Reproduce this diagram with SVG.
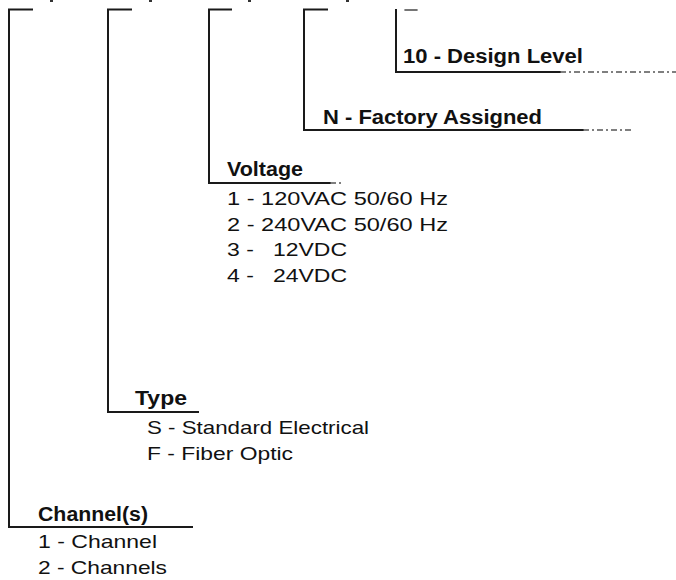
<svg xmlns="http://www.w3.org/2000/svg" width="676" height="580" viewBox="0 0 676 580">
<style>
.ln{stroke:#1a1a1a;stroke-width:2;fill:none;stroke-linecap:square}
.fd{stroke:#555;stroke-width:1.3;fill:none;stroke-dasharray:6 3 2 3}
.h{font-family:"Liberation Sans",Arial,sans-serif;font-weight:bold;font-size:20px;fill:#111}
.t{font-family:"Liberation Sans",Arial,sans-serif;font-size:19px;fill:#111}
.mk{fill:#333}
</style>
<rect width="676" height="580" fill="#fff"/>
<g id="marks">
<rect class="mk" x="50" y="0" width="3" height="2"/>
<rect class="mk" x="149" y="0" width="3" height="2"/>
<rect class="mk" x="248" y="0" width="3" height="2"/>
<rect class="mk" x="346" y="0" width="3" height="2"/>
</g>
<g id="connectors">
<path class="ln" d="M32 9.5H9V527H192"/>
<path class="ln" d="M131 9.5H108V412H198"/>
<path class="ln" d="M231 9.5H209V183H330"/>
<path class="fd" d="M330 183H344"/>
<path class="ln" d="M327 9.5H304V130H583"/>
<path class="fd" d="M583 130H634"/>
<path class="ln" d="M396 10V72H560"/>
<path class="fd" d="M560 72H676"/>
<path class="ln" d="M405 10H417" style="stroke-width:1.2"/>
</g>
<g id="design-level">
<text class="h" x="403" y="63" textLength="180" lengthAdjust="spacingAndGlyphs">10 - Design Level</text>
</g>
<g id="factory-assigned">
<text class="h" x="323" y="124" textLength="219" lengthAdjust="spacingAndGlyphs">N - Factory Assigned</text>
</g>
<g id="voltage">
<text class="h" x="227" y="176" textLength="76" lengthAdjust="spacingAndGlyphs">Voltage</text>
<text class="t" x="227" y="205" textLength="221" lengthAdjust="spacingAndGlyphs">1 - 120VAC 50/60 Hz</text>
<text class="t" x="227" y="230.5" textLength="221" lengthAdjust="spacingAndGlyphs">2 - 240VAC 50/60 Hz</text>
<text class="t" x="227" y="256" textLength="120" lengthAdjust="spacingAndGlyphs" xml:space="preserve">3 -   12VDC</text>
<text class="t" x="227" y="281.5" textLength="120" lengthAdjust="spacingAndGlyphs" xml:space="preserve">4 -   24VDC</text>
</g>
<g id="type">
<text class="h" x="135" y="405" textLength="52" lengthAdjust="spacingAndGlyphs">Type</text>
<text class="t" x="147" y="434" textLength="222" lengthAdjust="spacingAndGlyphs">S - Standard Electrical</text>
<text class="t" x="147" y="460" textLength="146" lengthAdjust="spacingAndGlyphs">F - Fiber Optic</text>
</g>
<g id="channels">
<text class="h" x="38" y="521" textLength="110" lengthAdjust="spacingAndGlyphs">Channel(s)</text>
<text class="t" x="38" y="548" textLength="119" lengthAdjust="spacingAndGlyphs">1 - Channel</text>
<text class="t" x="38" y="574" textLength="129" lengthAdjust="spacingAndGlyphs">2 - Channels</text>
</g>
</svg>
